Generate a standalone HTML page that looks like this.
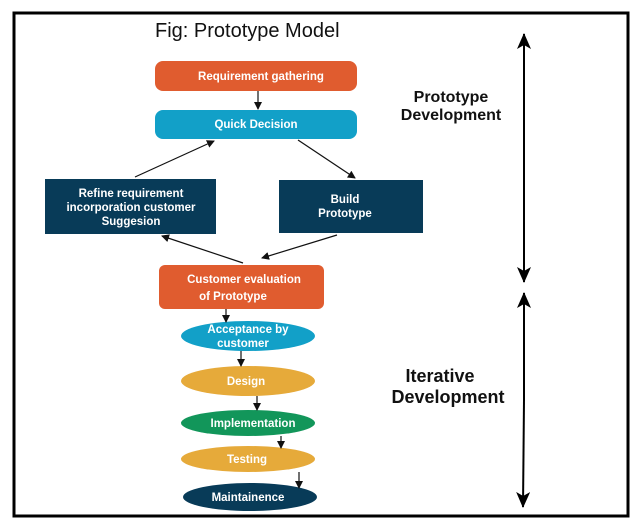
<!DOCTYPE html>
<html><head><style>
html,body{margin:0;padding:0;background:#fff;}
svg{display:block;}
text{font-family:"Liberation Sans",sans-serif;}
.w{fill:#fff;font-weight:bold;font-size:11.5px;text-anchor:middle;}
</style></head><body>
<svg width="634" height="524" viewBox="0 0 634 524">
<defs>
<marker id="a" markerWidth="8" markerHeight="8" refX="7" refY="4" orient="auto" markerUnits="userSpaceOnUse"><path d="M0,0 L8,4 L0,8 Z" fill="#111"/></marker>
<marker id="b" markerWidth="16" markerHeight="14" refX="15" refY="7" orient="auto" markerUnits="userSpaceOnUse"><path d="M0,0 L16,7 L0,14 L4,7 Z" fill="#000"/></marker>
</defs>
<rect x="14" y="13" width="614" height="503" fill="none" stroke="#000" stroke-width="3"/>
<text x="155" y="37" font-size="20" fill="#111">Fig:  Prototype Model</text>
<rect x="155" y="61" width="202" height="30" rx="8" fill="#E05C2F"/>
<text class="w" x="261" y="80">Requirement gathering</text>
<rect x="155" y="110" width="202" height="29" rx="8" fill="#12A0C8"/>
<text class="w" x="256" y="128">Quick Decision</text>
<rect x="45" y="179" width="171" height="55" fill="#083B58"/>
<text class="w" x="131" y="197">Refine requirement</text>
<text class="w" x="131" y="211">incorporation customer</text>
<text class="w" x="131" y="225">Suggesion</text>
<rect x="279" y="180" width="144" height="53" fill="#083B58"/>
<text class="w" x="345" y="203">Build</text>
<text class="w" x="345" y="217">Prototype</text>
<rect x="159" y="265" width="165" height="44" rx="6" fill="#E05C2F"/>
<text class="w" x="244" y="283">Customer evaluation</text>
<text class="w" x="233" y="300">of Prototype</text>
<ellipse cx="248" cy="336" rx="67" ry="15" fill="#12A0C8"/>
<text class="w" x="248" y="333" font-size="10.5">Acceptance by</text>
<text class="w" x="243" y="347" font-size="10.5">customer</text>
<ellipse cx="248" cy="381" rx="67" ry="15" fill="#E6AA3A"/>
<text class="w" x="246" y="385" font-size="10.5">Design</text>
<ellipse cx="248" cy="423" rx="67" ry="13" fill="#12965A"/>
<text class="w" x="253" y="427" font-size="10.5">Implementation</text>
<ellipse cx="248" cy="459" rx="67" ry="13" fill="#E6AA3A"/>
<text class="w" x="247" y="463" font-size="10.5">Testing</text>
<ellipse cx="250" cy="497" rx="67" ry="14" fill="#083B58"/>
<text class="w" x="248" y="501" font-size="10.5">Maintainence</text>
<g stroke="#111" stroke-width="1.2" marker-end="url(#a)" fill="none">
<line x1="258" y1="91" x2="258" y2="109"/>
<line x1="135" y1="177" x2="214" y2="141"/>
<line x1="298" y1="140" x2="355" y2="178"/>
<line x1="243" y1="263" x2="162" y2="236"/>
<line x1="337" y1="235" x2="262" y2="258"/>
<line x1="226" y1="309" x2="226" y2="322"/>
<line x1="241" y1="351" x2="241" y2="366"/>
<line x1="257" y1="396" x2="257" y2="410"/>
<line x1="281" y1="436" x2="281" y2="448"/>
<line x1="299" y1="472" x2="299" y2="488"/>
</g>
<text x="451" y="102" font-size="16" font-weight="bold" text-anchor="middle" fill="#111">Prototype</text>
<text x="451" y="120" font-size="16" font-weight="bold" text-anchor="middle" fill="#111">Development</text>
<text x="440" y="382" font-size="18" font-weight="bold" text-anchor="middle" fill="#111">Iterative</text>
<text x="448" y="403" font-size="18" font-weight="bold" text-anchor="middle" fill="#111">Development</text>
<g stroke="#000" stroke-width="2">
<line x1="524" y1="158" x2="524" y2="34" marker-end="url(#b)"/>
<line x1="524" y1="158" x2="524" y2="282" marker-end="url(#b)"/>
<line x1="524" y1="400" x2="524" y2="293" marker-end="url(#b)"/>
<line x1="524" y1="400" x2="523" y2="507" marker-end="url(#b)"/>
</g>
</svg>
</body></html>
